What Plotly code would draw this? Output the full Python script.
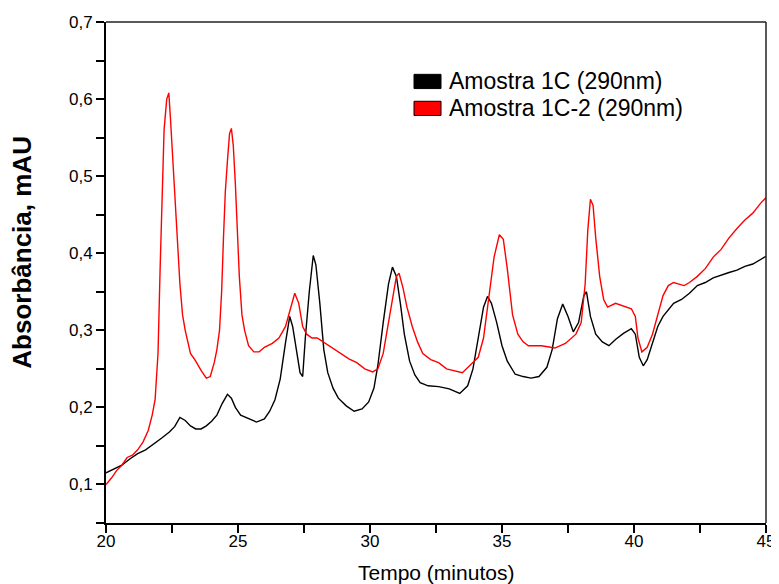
import plotly.graph_objects as go

# ---- data (time in minutes, absorbance in mAU) ----
t_black = [20.0, 20.3, 20.6, 20.9, 21.2, 21.5, 21.8, 22.1, 22.4, 22.6, 22.8, 23.0, 23.2, 23.4, 23.6,
           23.8, 24.0, 24.2, 24.4, 24.6, 24.75, 24.9, 25.1, 25.4, 25.7, 26.0, 26.2, 26.4, 26.6, 26.8,
           26.96, 27.07, 27.2, 27.35, 27.45, 27.55, 27.7, 27.85, 27.95, 28.1, 28.25, 28.4, 28.6, 28.8,
           29.1, 29.4, 29.7, 29.95, 30.15, 30.3, 30.5, 30.7, 30.85, 31.0, 31.15, 31.3, 31.5, 31.7,
           31.9, 32.2, 32.6, 33.0, 33.4, 33.7, 33.9, 34.1, 34.3, 34.45, 34.6, 34.8, 35.0, 35.2, 35.5,
           35.8, 36.1, 36.4, 36.7, 36.9, 37.1, 37.3, 37.5, 37.7, 37.9, 38.1, 38.2, 38.35, 38.55, 38.8,
           39.05, 39.3, 39.6, 39.9, 40.05, 40.2, 40.35, 40.5, 40.7, 40.9, 41.1, 41.3, 41.5, 41.8,
           42.1, 42.4, 42.7, 43.0, 43.3, 43.6, 43.9, 44.2, 44.5, 44.8, 45.0]
a_black = [0.115, 0.120, 0.125, 0.133, 0.140, 0.145, 0.152, 0.160, 0.168, 0.175, 0.187, 0.183, 0.176,
           0.172, 0.172, 0.176, 0.182, 0.190, 0.205, 0.217, 0.212, 0.200, 0.190, 0.185, 0.181, 0.185,
           0.195, 0.210, 0.237, 0.284, 0.318, 0.305, 0.275, 0.245, 0.240, 0.290, 0.350, 0.397, 0.385,
           0.335, 0.275, 0.245, 0.225, 0.212, 0.202, 0.195, 0.198, 0.207, 0.225, 0.255, 0.310, 0.360,
           0.382, 0.370, 0.335, 0.295, 0.260, 0.242, 0.232, 0.228, 0.227, 0.224, 0.218, 0.228, 0.250,
           0.290, 0.330, 0.344, 0.335, 0.310, 0.280, 0.260, 0.243, 0.240, 0.238, 0.240, 0.252, 0.275,
           0.315, 0.334, 0.318, 0.298, 0.310, 0.345, 0.350, 0.318, 0.295, 0.285, 0.280, 0.288, 0.296,
           0.302, 0.295, 0.265, 0.254, 0.262, 0.282, 0.305, 0.318, 0.326, 0.335, 0.340, 0.348, 0.358,
           0.362, 0.368, 0.372, 0.375, 0.378, 0.383, 0.386, 0.392, 0.396]

t_red = [20.0, 20.2, 20.4, 20.6, 20.8, 21.0, 21.2, 21.4, 21.6, 21.75, 21.86, 21.97, 22.05, 22.12, 22.2,
         22.3, 22.38, 22.45, 22.52, 22.6, 22.7, 22.8, 22.9, 23.0, 23.1, 23.2, 23.4, 23.6, 23.8, 23.95,
         24.1, 24.2, 24.3, 24.38, 24.45, 24.52, 24.6, 24.68, 24.75, 24.82, 24.9, 24.97, 25.05, 25.15,
         25.25, 25.4, 25.6, 25.8, 26.0, 26.3, 26.55, 26.8, 27.0, 27.15, 27.3, 27.45, 27.6, 27.8, 28.0,
         28.3, 28.6, 28.9, 29.2, 29.5, 29.8, 30.1, 30.3, 30.5, 30.7, 30.85, 31.0, 31.1, 31.25, 31.4,
         31.6, 31.8, 32.0, 32.3, 32.6, 32.9, 33.2, 33.5, 33.8, 34.1, 34.3, 34.5, 34.7, 34.9, 35.05,
         35.2, 35.4, 35.6, 35.8, 36.0, 36.5, 37.0, 37.4, 37.8, 38.0, 38.15, 38.25, 38.35, 38.45, 38.55,
         38.7, 38.85, 39.0, 39.3, 39.6, 39.9, 40.05, 40.15, 40.3, 40.5, 40.7, 40.9, 41.1, 41.3, 41.5,
         41.7, 41.9, 42.1, 42.4, 42.7, 43.0, 43.3, 43.6, 43.9, 44.2, 44.5, 44.8, 45.0]
a_red = [0.100, 0.108, 0.118, 0.125, 0.135, 0.138, 0.145, 0.155, 0.170, 0.190, 0.210, 0.270, 0.380,
         0.460, 0.560, 0.600, 0.608, 0.570, 0.525, 0.470, 0.420, 0.360, 0.320, 0.300, 0.285, 0.270,
         0.260, 0.248, 0.238, 0.240, 0.258, 0.275, 0.300, 0.350, 0.420, 0.480, 0.520, 0.555, 0.562,
         0.540, 0.490, 0.440, 0.370, 0.320, 0.300, 0.280, 0.272, 0.272, 0.278, 0.283, 0.290, 0.305,
         0.330, 0.348, 0.335, 0.305, 0.295, 0.290, 0.290, 0.283, 0.276, 0.270, 0.263, 0.258, 0.250,
         0.246, 0.250, 0.270, 0.310, 0.345, 0.370, 0.374, 0.355, 0.330, 0.305, 0.285, 0.270, 0.262,
         0.258, 0.250, 0.247, 0.245, 0.255, 0.265, 0.290, 0.340, 0.395, 0.424, 0.418, 0.380, 0.320,
         0.295, 0.285, 0.280, 0.280, 0.277, 0.283, 0.295, 0.310, 0.360, 0.430, 0.470, 0.462, 0.420,
         0.370, 0.340, 0.330, 0.335, 0.332, 0.328, 0.318, 0.290, 0.272, 0.278, 0.295, 0.320, 0.345,
         0.358, 0.362, 0.360, 0.358, 0.362, 0.370, 0.380, 0.395, 0.405, 0.420, 0.432, 0.443, 0.452,
         0.465, 0.472]

series_names = ["Amostra 1C (290nm)", "Amostra 1C-2 (290nm)"]
series_colors = ["#000000", "#ff0000"]
x_ticks = [20, 25, 30, 35, 40, 45]
y_ticks = [0.1, 0.2, 0.3, 0.4, 0.5, 0.6, 0.7]

FONT = "Liberation Sans, Arial, sans-serif"

fig = go.Figure()
fig.add_trace(go.Scatter(x=t_black, y=a_black, mode="lines", name=series_names[0],
                         line=dict(color=series_colors[0], width=1.4), showlegend=False))
fig.add_trace(go.Scatter(x=t_red, y=a_red, mode="lines", name=series_names[1],
                         line=dict(color=series_colors[1], width=1.4), showlegend=False))

axis_common = dict(showgrid=False, zeroline=False, showline=True, linecolor="black", linewidth=2,
                   ticks="outside", ticklen=8, tickwidth=2, tickcolor="black", automargin=False,
                   tickfont=dict(family=FONT, size=17, color="black"))

fig.update_xaxes(range=[20, 45], tickvals=x_ticks, ticktext=[str(v) for v in x_ticks],
                 ticklabelstandoff=-6,
                 minor=dict(ticks="outside", ticklen=8, tickwidth=2, tickcolor="black", dtick=2.5,
                            tick0=20, showgrid=False),
                 **axis_common)
fig.update_yaxes(range=[0.05, 0.7], tickvals=y_ticks, tickformat=".1f",
                 minor=dict(ticks="outside", ticklen=8, tickwidth=2, tickcolor="black", dtick=0.05,
                            tick0=0.05, showgrid=False),
                 **axis_common)

# frame top and right (no ticks)
fig.add_shape(type="line", xref="paper", yref="paper", x0=0, x1=1, y0=1, y1=1,
              line=dict(color="#222", width=1.5))
fig.add_shape(type="line", xref="paper", yref="paper", x0=1, x1=1, y0=0, y1=1,
              line=dict(color="#222", width=1.5))

# page offset (browser body margin) is 8 px; plot area in page coords: x 106..766, y 22..515
pw, ph = 660.0, 493.0
def px(xp):
    return (xp - 106) / pw
def py(yp):
    return 1 - (yp - 22) / ph

legend_rows = [80.5, 107.0]
for name, col, yc in zip(series_names, series_colors, legend_rows):
    fig.add_shape(type="rect", xref="paper", yref="paper", x0=px(414), x1=px(441),
                  y0=py(yc + 7), y1=py(yc - 7), fillcolor=col, line=dict(color="black", width=1))
    fig.add_annotation(text=name, xref="paper", yref="paper", x=px(447), y=py(yc), xanchor="left",
                       yanchor="middle", showarrow=False,
                       font=dict(family=FONT, size=23, color="black"))

# axis titles
fig.add_annotation(text="<b>Absorbância, mAU</b>", xref="paper", yref="paper", x=px(22), y=py(249),
                   textangle=-90, showarrow=False, xanchor="center", yanchor="middle",
                   font=dict(family=FONT, size=26, color="black"))
fig.add_annotation(text="Tempo (minutos)", xref="paper", yref="paper", x=px(436), y=py(564),
                   showarrow=False, xanchor="center", yanchor="middle",
                   font=dict(family=FONT, size=21, color="black"))

fig.update_layout(width=771, height=576, margin=dict(l=98, r=13, t=14, b=61, autoexpand=False),
                  paper_bgcolor="white", plot_bgcolor="white", separators=",.",
                  showlegend=False)

fig.write_html("out.html")
